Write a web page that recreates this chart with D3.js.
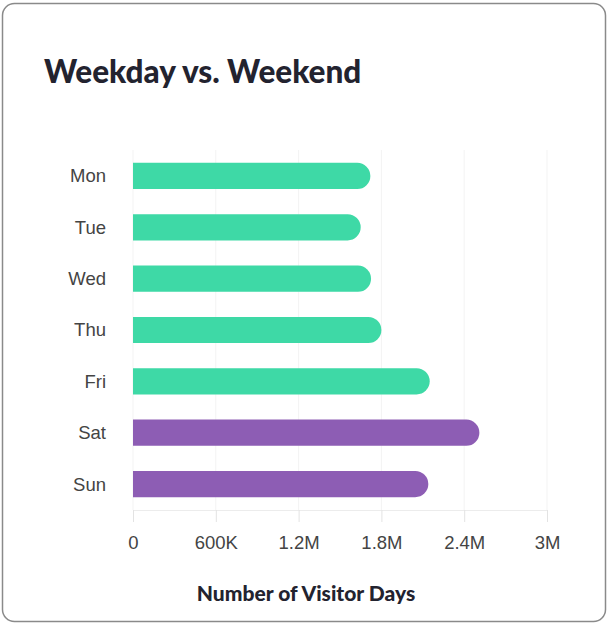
<!DOCTYPE html>
<html>
<head>
<meta charset="utf-8">
<script src="https://cdn.jsdelivr.net/npm/d3@7"></script>
<style>
  body { margin: 0; background: #fff; }
</style>
</head>
<body>
<div id="chart"></div>
<script>
// data
var days = ["Mon", "Tue", "Wed", "Thu", "Fri", "Sat", "Sun"];
var visitorDays = [1720000, 1650000, 1725000, 1800000, 2150000, 2510000, 2140000];
var dayType = ["weekday", "weekday", "weekday", "weekday", "weekday", "weekend", "weekend"];
var tickValues = [0, 600000, 1200000, 1800000, 2400000, 3000000];
var tickLabels = ["0", "600K", "1.2M", "1.8M", "2.4M", "3M"];

var W = 608, H = 625;
var margin = {top: 150, left: 133};

var svg = d3.select("#chart").append("svg")
    .attr("width", W)
    .attr("height", H);

// card border
svg.append("rect")
    .attr("x", 2.5).attr("y", 3.5)
    .attr("width", 603).attr("height", 618)
    .attr("rx", 12)
    .attr("fill", "#fff")
    .attr("stroke", "#8a8a8a")
    .attr("stroke-width", 1.5);

// title
svg.append("text")
    .attr("x", 44)
    .attr("y", 83)
    .attr("font-family", "Lato, sans-serif")
    .attr("font-weight", 900)
    .attr("font-size", "31.5px")
    .attr("fill", "#23232f")
    .text("Weekday vs. Weekend");

var g = svg.append("g")
    .attr("transform", "translate(" + margin.left + "," + margin.top + ")");

var x = d3.scaleLinear().domain([0, 3000000]).range([0, 414]);
var y = d3.scaleBand().domain(days).range([0, 360]).paddingInner(0.49).paddingOuter(0.25);

var color = d3.scaleOrdinal().domain(["weekday", "weekend"]).range(["#3ed9a6", "#8d5db4"]);

// faint gridlines
g.selectAll(".grid")
    .data(tickValues)
    .enter().append("line")
    .attr("x1", function(d) { return x(d); })
    .attr("x2", function(d) { return x(d); })
    .attr("y1", 0)
    .attr("y2", 360)
    .attr("stroke", "#f3f3f3");

// x axis
var xAxis = g.append("g")
    .attr("transform", "translate(0,360)")
    .call(d3.axisBottom(x)
        .tickValues(tickValues)
        .tickFormat(function(d, i) { return tickLabels[i]; })
        .tickSize(12)
        .tickPadding(14));
xAxis.select(".domain").attr("stroke", "#ececec");
xAxis.selectAll(".tick line").attr("stroke", "#e3e3e3");
xAxis.selectAll("text")
    .attr("font-family", "Liberation Sans, Arial, sans-serif")
    .attr("font-size", "18.5px")
    .attr("fill", "#444");

// y labels
g.selectAll(".dayLabel")
    .data(days)
    .enter().append("text")
    .attr("x", -27)
    .attr("y", function(d) { return y(d) + y.bandwidth() / 2; })
    .attr("dy", "0.35em")
    .attr("text-anchor", "end")
    .attr("font-family", "Liberation Sans, Arial, sans-serif")
    .attr("font-size", "18.5px")
    .attr("fill", "#444")
    .text(function(d) { return d; });

// bars, square left end and round right end
var r = y.bandwidth() / 2;
g.selectAll(".bar")
    .data(days)
    .enter().append("path")
    .attr("fill", function(d, i) { return color(dayType[i]); })
    .attr("d", function(d, i) {
        var x1 = x(visitorDays[i]), y0 = y(d), h = y.bandwidth();
        return "M0," + y0 + "H" + (x1 - r) +
            "A" + r + "," + r + " 0 0 1 " + (x1 - r) + "," + (y0 + h) +
            "H0Z";
    });

// x axis title
svg.append("text")
    .attr("x", 306)
    .attr("y", 601)
    .attr("text-anchor", "middle")
    .attr("font-family", "Lato, sans-serif")
    .attr("font-weight", 900)
    .attr("font-size", "21px")
    .attr("fill", "#23232f")
    .text("Number of Visitor Days");
</script>
</body>
</html>
